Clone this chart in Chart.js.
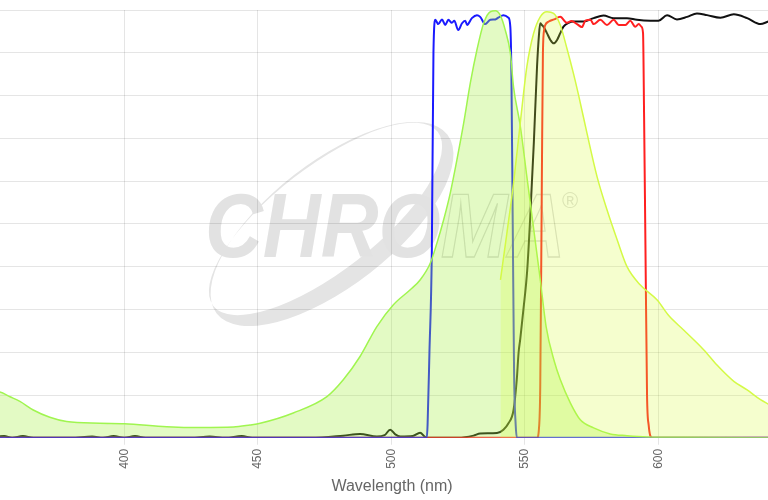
<!DOCTYPE html>
<html>
<head>
<meta charset="utf-8">
<script src="https://cdn.jsdelivr.net/npm/chart.js@4.4.1/dist/chart.umd.min.js"></script>
<style>
  html, body { margin: 0; padding: 0; overflow: hidden; background: #fff; }
  #wrap { width: 784px; height: 500px; }
</style>
</head>
<body>
<div id="wrap"><canvas id="spectraChart"></canvas></div>
<script>
// x ticks shown on the wavelength axis
const xTicks = [400, 450, 500, 550, 600];

// Excitation spectrum (green)
const exWl  = [350, 353.4, 357.2, 360.9, 365.9, 372.1, 378.4, 390.9, 400, 415.9, 428.4, 440.9, 447.1, 450.9, 463.3, 475.9, 482.1, 488.3, 494.6, 500.8, 507.1, 510.8, 514.6, 517.1, 519.6, 522.1, 524.6, 527.1, 529.6, 532.1, 534.6, 537.1, 539, 540.8, 542.7, 544.6, 545.8, 548.3, 550.8, 553.3, 555.8, 558, 561, 563.3, 567.1, 570.8, 575.8, 582, 588.3, 595.8, 610, 647];
const exVal = [10.9, 10.7, 9.6, 8.5, 6.5, 4.8, 3.8, 3.4, 3.3, 2.6, 2.4, 2.5, 3.0, 3.4, 5.8, 9.6, 13.6, 19, 26, 31.1, 34.6, 36.9, 40.8, 45.5, 50.9, 57.2, 65, 73.5, 82.9, 90.7, 96.9, 99.6, 99.8, 98.8, 95.3, 89.9, 82, 73, 61, 49, 37, 26, 18, 13.6, 8.1, 4.2, 2.3, 0.9, 0.5, 0.2, 0.1, 0];

// Emission spectrum (yellow-green)
const emWl  = [540.9, 543.3, 545.8, 548.3, 550.8, 553.3, 555.8, 558.3, 560.8, 563.3, 565.8, 568.3, 570.2, 573.3, 577.1, 580.8, 584.6, 588.3, 593.3, 599.6, 604, 609.5, 617, 622, 628.3, 633.3, 638.3, 641.2, 647];
const emVal = [36.9, 47.8, 59.5, 73.5, 86.8, 94.5, 98.4, 99.6, 99.2, 96.5, 91, 85, 80, 71.2, 61, 53.3, 46.3, 40, 35.7, 32.2, 28.5, 25.2, 20.6, 17, 13.2, 11.2, 8.9, 7.9, 6];

// Excitation filter (blue)
const exFiltWl = [350, 513.3, 513.6, 514.3, 515.2, 515.8, 516.5, 517.6, 519, 520.2, 521.4, 522.7, 523.6, 525.1, 526.5, 527.7, 528.4, 530.2, 532.1, 533.3, 535.2, 537.1, 539, 540.1, 542, 543.9, 544.6, 545, 545.5, 546, 546.6, 547.1, 647];
const exFiltT  = [0, 0, 3, 20, 44, 90, 97.7, 96.7, 97.8, 96.5, 97.7, 97.0, 97.5, 95.3, 96.9, 97.5, 96.5, 98.1, 98.8, 98.4, 96.7, 97.7, 97.8, 98.2, 98.8, 98.2, 96, 85, 50, 15, 3, 0, 0];

// Emission filter (red)
const emFiltWl = [350, 554.6, 555.3, 555.8, 556.4, 556.8, 557.3, 557.7, 559, 561, 563.3, 565.8, 567.5, 569.6, 571.4, 572.7, 574.6, 575.8, 578.3, 580.8, 583.3, 585.2, 587.7, 589.5, 591.4, 592.7, 593.7, 594.3, 594.7, 595.2, 595.8, 596.4, 597.7, 647];
const emFiltT  = [0, 0, 2, 12, 60, 90, 95.5, 96.5, 97.3, 97.8, 98.4, 97.0, 97.4, 96.7, 96.0, 97.5, 97.7, 96.7, 97.7, 96.5, 97.7, 96.5, 96.5, 97.5, 96.1, 96.7, 96.1, 94.6, 75, 45, 10, 3, 0, 0];

// Dichroic mirror (black)
const dichWl = [350, 355, 358, 362, 366, 380, 388, 392, 396, 400, 404, 408, 425, 432, 438, 444, 448, 470, 482, 488.3, 494.6, 497.5, 499.6, 501.5, 503.4, 508, 510.8, 512.5, 513.3, 525, 530.8, 533.3, 539.6, 542, 543.9, 545.8, 547, 547.7, 548.3, 549.5, 550.9, 552, 553.4, 554.6, 555.3, 555.8, 556.4, 557, 558.3, 559.6, 560.8, 562.1, 563.3, 564.5, 566.4, 568.3, 572, 575.8, 579.5, 583.3, 588.3, 592, 597, 600.1, 603.3, 607, 610.8, 614.5, 618.3, 623.3, 628.3, 633.3, 638.3, 641.2, 647];
const dichT  = [0, 0.4, 0, 0.4, 0, 0, 0.3, 0, 0.4, 0, 0.4, 0, 0, 0.3, 0, 0.4, 0, 0, 0.5, 0.9, 0.3, 0.6, 1.9, 0.8, 0.3, 0.4, 1.2, 0.3, 0, 0, 0.5, 1, 1.1, 1.9, 3.4, 6.5, 13.5, 20, 23, 30, 39, 51, 69, 86.8, 94, 96.9, 96.5, 96.1, 94.6, 93, 92.2, 93, 94.6, 96.1, 97, 97.3, 97.3, 98.1, 98.7, 98.1, 98.1, 97.7, 97.5, 97.5, 98.8, 97.8, 98.4, 99.2, 98.8, 98.2, 99, 98.1, 96.7, 97.3, 98];

function pts(xs, ys) {
  return xs.map((x, i) => ({ x: x, y: ys[i] }));
}

// grey CHROMA logo behind the plot
const watermark = {
  id: 'watermark',
  beforeDraw(chart) {
    const ctx = chart.ctx;
    ctx.save();
    // swoosh
    ctx.translate(332, 224);
    ctx.rotate(-0.66);
    ctx.beginPath();
    ctx.ellipse(0, 0, 146, 62, 0, 0, Math.PI * 2);
    ctx.ellipse(-2, -8, 142, 52, 0, 0, Math.PI * 2);
    ctx.fillStyle = '#e4e4e4';
    ctx.fill('evenodd');
    ctx.restore();

    ctx.save();
    ctx.translate(205, 257);
    ctx.scale(0.88, 1);
    ctx.font = 'italic bold 91px "Liberation Sans", Arial, sans-serif';
    ctx.textBaseline = 'alphabetic';
    ctx.fillStyle = '#e2e2e2';
    ctx.fillText('CHRO', 0, 0);
    const w = ctx.measureText('CHRO').width;
    ctx.strokeStyle = '#dadada';
    ctx.lineWidth = 1.3;
    ctx.strokeText('MA', w, 0);
    ctx.restore();

    ctx.save();
    ctx.font = '22px "Liberation Sans", Arial, sans-serif';
    ctx.fillStyle = '#dedede';
    ctx.textAlign = 'center';
    ctx.textBaseline = 'middle';
    ctx.fillText('®', 570, 202);
    ctx.restore();
  }
};

new Chart(document.getElementById('spectraChart'), {
  type: 'line',
  data: {
    datasets: [
      {
        label: 'Emission',
        data: pts(emWl, emVal),
        borderColor: 'rgb(212, 250, 70)',
        backgroundColor: 'rgba(215, 250, 60, 0.25)',
        borderWidth: 1.5,
        fill: 'origin',
        order: 0
      },
      {
        label: 'Excitation',
        data: pts(exWl, exVal),
        borderColor: 'rgb(160, 245, 80)',
        backgroundColor: 'rgba(162, 240, 60, 0.3)',
        borderWidth: 1.5,
        fill: 'origin',
        order: 1
      },
      {
        label: 'Excitation filter',
        data: pts(exFiltWl, exFiltT),
        borderColor: '#1a1aff',
        borderWidth: 2,
        fill: false,
        order: 2
      },
      {
        label: 'Emission filter',
        data: pts(emFiltWl, emFiltT),
        borderColor: '#ff2020',
        borderWidth: 2,
        fill: false,
        order: 3
      },
      {
        label: 'Dichroic',
        data: pts(dichWl, dichT),
        borderColor: '#111111',
        borderWidth: 2,
        fill: false,
        order: 4
      }
    ]
  },
  options: {
    responsive: true,
    maintainAspectRatio: false,
    animation: false,
    layout: { padding: { top: 10, left: 0, right: 0, bottom: 0 } },
    elements: {
      point: { radius: 0 },
      line: { cubicInterpolationMode: 'monotone' }
    },
    plugins: {
      legend: { display: false },
      tooltip: { enabled: false }
    },
    scales: {
      x: {
        type: 'linear',
        min: 353.45,
        max: 647.1,
        afterBuildTicks: (scale) => {
          scale.ticks = xTicks.map(v => ({ value: v }));
        },
        ticks: { minRotation: 90, maxRotation: 90, color: '#666', font: { size: 12 }, padding: 4 },
        grid: { color: 'rgba(0,0,0,0.1)', tickLength: 7 },
        border: { display: false },
        title: {
          display: true,
          text: 'Wavelength (nm)',
          color: '#666',
          font: { size: 16 },
          padding: { top: 4, bottom: 4 }
        }
      },
      y: {
        min: 0,
        max: 100,
        ticks: { display: false, stepSize: 10 },
        grid: { color: 'rgba(0,0,0,0.1)', drawTicks: false },
        border: { display: false }
      }
    }
  },
  plugins: [watermark]
});
</script>
</body>
</html>
